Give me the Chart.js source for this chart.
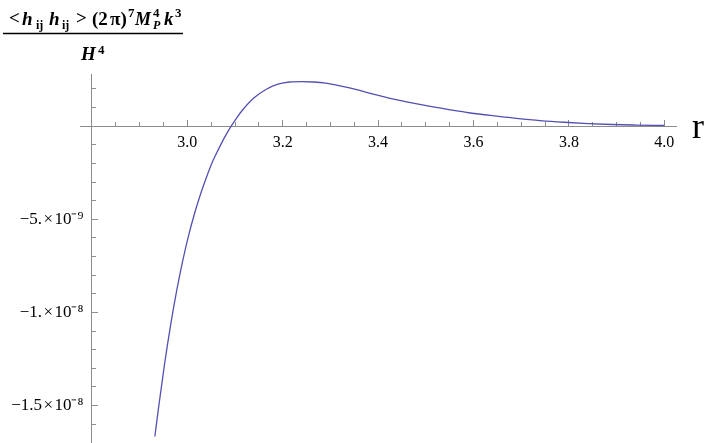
<!DOCTYPE html>
<html>
<head>
<meta charset="utf-8">
<script src="https://cdn.jsdelivr.net/npm/chart.js@4"></script>
<style>
  html, body { margin: 0; padding: 0; background: #ffffff; }
  #wrap { width: 706px; height: 443px; }
</style>
</head>
<body>
<div id="wrap"><canvas id="c" width="706" height="443"></canvas></div>
<script>
// ---- data ----
const rValues = [2.932, 2.940, 2.9525, 2.965, 2.9775, 2.990, 3.0025, 3.015, 3.0275, 3.040, 3.0525,
                 3.065, 3.0775, 3.090, 3.1025, 3.115, 3.140, 3.165, 3.190, 3.215, 3.240, 3.265, 3.290, 3.315,
                 3.340, 3.365, 3.390, 3.415, 3.440, 3.465, 3.490, 3.515, 3.540, 3.565, 3.590,
                 3.615, 3.640, 3.665, 3.690, 3.740, 3.790, 3.840, 3.890, 3.940, 4.000];
// signal values in units of 1e-9
const hValues = [-16.66, -15.06, -12.74, -10.68, -8.86, -7.27, -5.89, -4.70, -3.67, -2.76, -1.93,
                 -1.26, -0.63, -0.08, 0.41, 0.84, 1.52, 1.97, 2.25, 2.37, 2.39, 2.37, 2.31, 2.19,
                 2.05, 1.89, 1.72, 1.56, 1.41, 1.28, 1.16, 1.04, 0.93, 0.82, 0.72,
                 0.64, 0.56, 0.49, 0.42, 0.30, 0.21, 0.14, 0.09, 0.06, 0.035];
const valueUnit = 1e-9;

const xMajorTicks = [2.8, 3.0, 3.2, 3.4, 3.6, 3.8, 4.0];
const xTickLabels = ['', '3.0', '3.2', '3.4', '3.6', '3.8', '4.0'];
const yMajorTicks = [-1.5e-8, -1e-8, -5e-9];
const yTickLabels = ['\u22121.5\u200a\u00d7\u200a10\u207b\u2078\u2002',
                     '\u22121.\u200a\u00d7\u200a10\u207b\u2078\u2002',
                     '\u22125.\u200a\u00d7\u200a10\u207b\u2079\u2002'];
const xMinorStep = 0.05;
const yMinorStep = 1e-9;

const xRange = [2.7765, 4.0245];
const yRange = [-17.0e-9, 2.8e-9];

// minor tick positions
const xMinorTicks = [];
for (let k = 0; k <= 24; k++) {
  const v = Math.round((2.8 + k * xMinorStep) * 1000) / 1000;
  if (!xMajorTicks.some(m => Math.abs(m - v) < 1e-6)) xMinorTicks.push(v);
}
const yMinorTicks = [];
for (let k = -16; k <= 2; k++) {
  const v = k * yMinorStep;
  if (k !== 0 && !yMajorTicks.some(m => Math.abs(m - v) < 1e-12)) yMinorTicks.push(v);
}

const AXIS = '#8c8c8c';
const LINE = 'rgb(84, 80, 176)';
const SERIF = "'Liberation Serif', 'Times New Roman', serif";

// math-style labels (axis title and "r")
const titleRuns = [
  ['<', 'bold', 19, 9, 24],
  ['h', 'italic bold', 19, 22, 25],
  ['ij', 'bold', 12, 36, 29],
  ['h', 'italic bold', 19, 49, 25],
  ['ij', 'bold', 12, 62, 29],
  ['>', 'bold', 19, 76, 24],
  ['(2', 'bold', 19, 92, 25],
  ['\u03c0)', 'bold', 19, 110, 25],
  ['7', 'bold', 13, 128, 17],
  ['M', 'italic bold', 18, 135, 25],
  ['4', 'bold', 13, 153, 17],
  ['P', 'italic bold', 12, 153, 29],
  ['k', 'italic bold', 19, 164, 25],
  ['3', 'bold', 13, 175, 17],
  ['H', 'italic bold', 19, 81, 60],
  ['4', 'bold', 13, 98, 54],
  ['r', 'normal', 36, 692, 138]
];

const mathLabels = {
  id: 'mathLabels',
  afterDraw(chart) {
    const ctx = chart.ctx;
    ctx.save();
    ctx.fillStyle = '#000';
    ctx.textBaseline = 'alphabetic';
    ctx.textAlign = 'left';
    for (const [t, st, sz, x, y] of titleRuns) {
      ctx.font = `${st} ${sz}px ${SERIF}`;
      ctx.fillText(t, x, y);
    }
    ctx.strokeStyle = '#000';
    ctx.lineWidth = 1.5;
    ctx.beginPath();
    ctx.moveTo(3, 33.5);
    ctx.lineTo(183, 33.5);
    ctx.stroke();
    ctx.restore();
  }
};

new Chart(document.getElementById('c'), {
  type: 'line',
  data: {
    datasets: [{
      data: rValues.map((r, i) => ({ x: r, y: hValues[i] * valueUnit })),
      borderColor: LINE,
      borderWidth: 1.3,
      pointRadius: 0,
      cubicInterpolationMode: 'monotone',
      fill: false
    }]
  },
  options: {
    responsive: false,
    animation: false,
    layout: { padding: { left: 80.7, right: 30, top: 74, bottom: 0 } },
    plugins: { legend: { display: false }, tooltip: { enabled: false } },
    scales: {
      x: {
        type: 'linear', axis: 'x', min: xRange[0], max: xRange[1], bounds: 'data',
        position: { y: 0 },
        afterBuildTicks: s => { s.ticks = xMajorTicks.map(v => ({ value: v })); },
        grid: { display: true, drawOnChartArea: false, drawTicks: true, tickLength: -7, color: AXIS, lineWidth: 1 },
        border: { display: true, color: AXIS, width: 1 },
        ticks: {
          autoSkip: false, maxRotation: 0, padding: 14, color: '#000',
          font: { family: SERIF, size: 16 },
          callback: (v, i) => xTickLabels[i]
        }
      },
      xMinor: {
        type: 'linear', axis: 'x', min: xRange[0], max: xRange[1], bounds: 'data',
        position: { y: 0 },
        afterBuildTicks: s => { s.ticks = xMinorTicks.map(v => ({ value: v })); },
        grid: { display: true, drawOnChartArea: false, drawTicks: true, tickLength: -4, color: AXIS, lineWidth: 1 },
        border: { display: false },
        ticks: { display: false, autoSkip: false }
      },
      y: {
        type: 'linear', axis: 'y', min: yRange[0], max: yRange[1], bounds: 'data',
        position: { x: 2.8 },
        afterBuildTicks: s => { s.ticks = yMajorTicks.map(v => ({ value: v })); },
        grid: { display: true, drawOnChartArea: false, drawTicks: true, tickLength: -7, color: AXIS, lineWidth: 1 },
        border: { display: true, color: AXIS, width: 1 },
        ticks: {
          autoSkip: false, padding: -10, color: '#000',
          font: { family: SERIF, size: 17 },
          callback: (v, i) => yTickLabels[i]
        }
      },
      yMinor: {
        type: 'linear', axis: 'y', min: yRange[0], max: yRange[1], bounds: 'data',
        position: { x: 2.8 },
        afterBuildTicks: s => { s.ticks = yMinorTicks.map(v => ({ value: v })); },
        grid: { display: true, drawOnChartArea: false, drawTicks: true, tickLength: -4, color: AXIS, lineWidth: 1 },
        border: { display: false },
        ticks: { display: false, autoSkip: false }
      }
    }
  },
  plugins: [mathLabels]
});
</script>
</body>
</html>
